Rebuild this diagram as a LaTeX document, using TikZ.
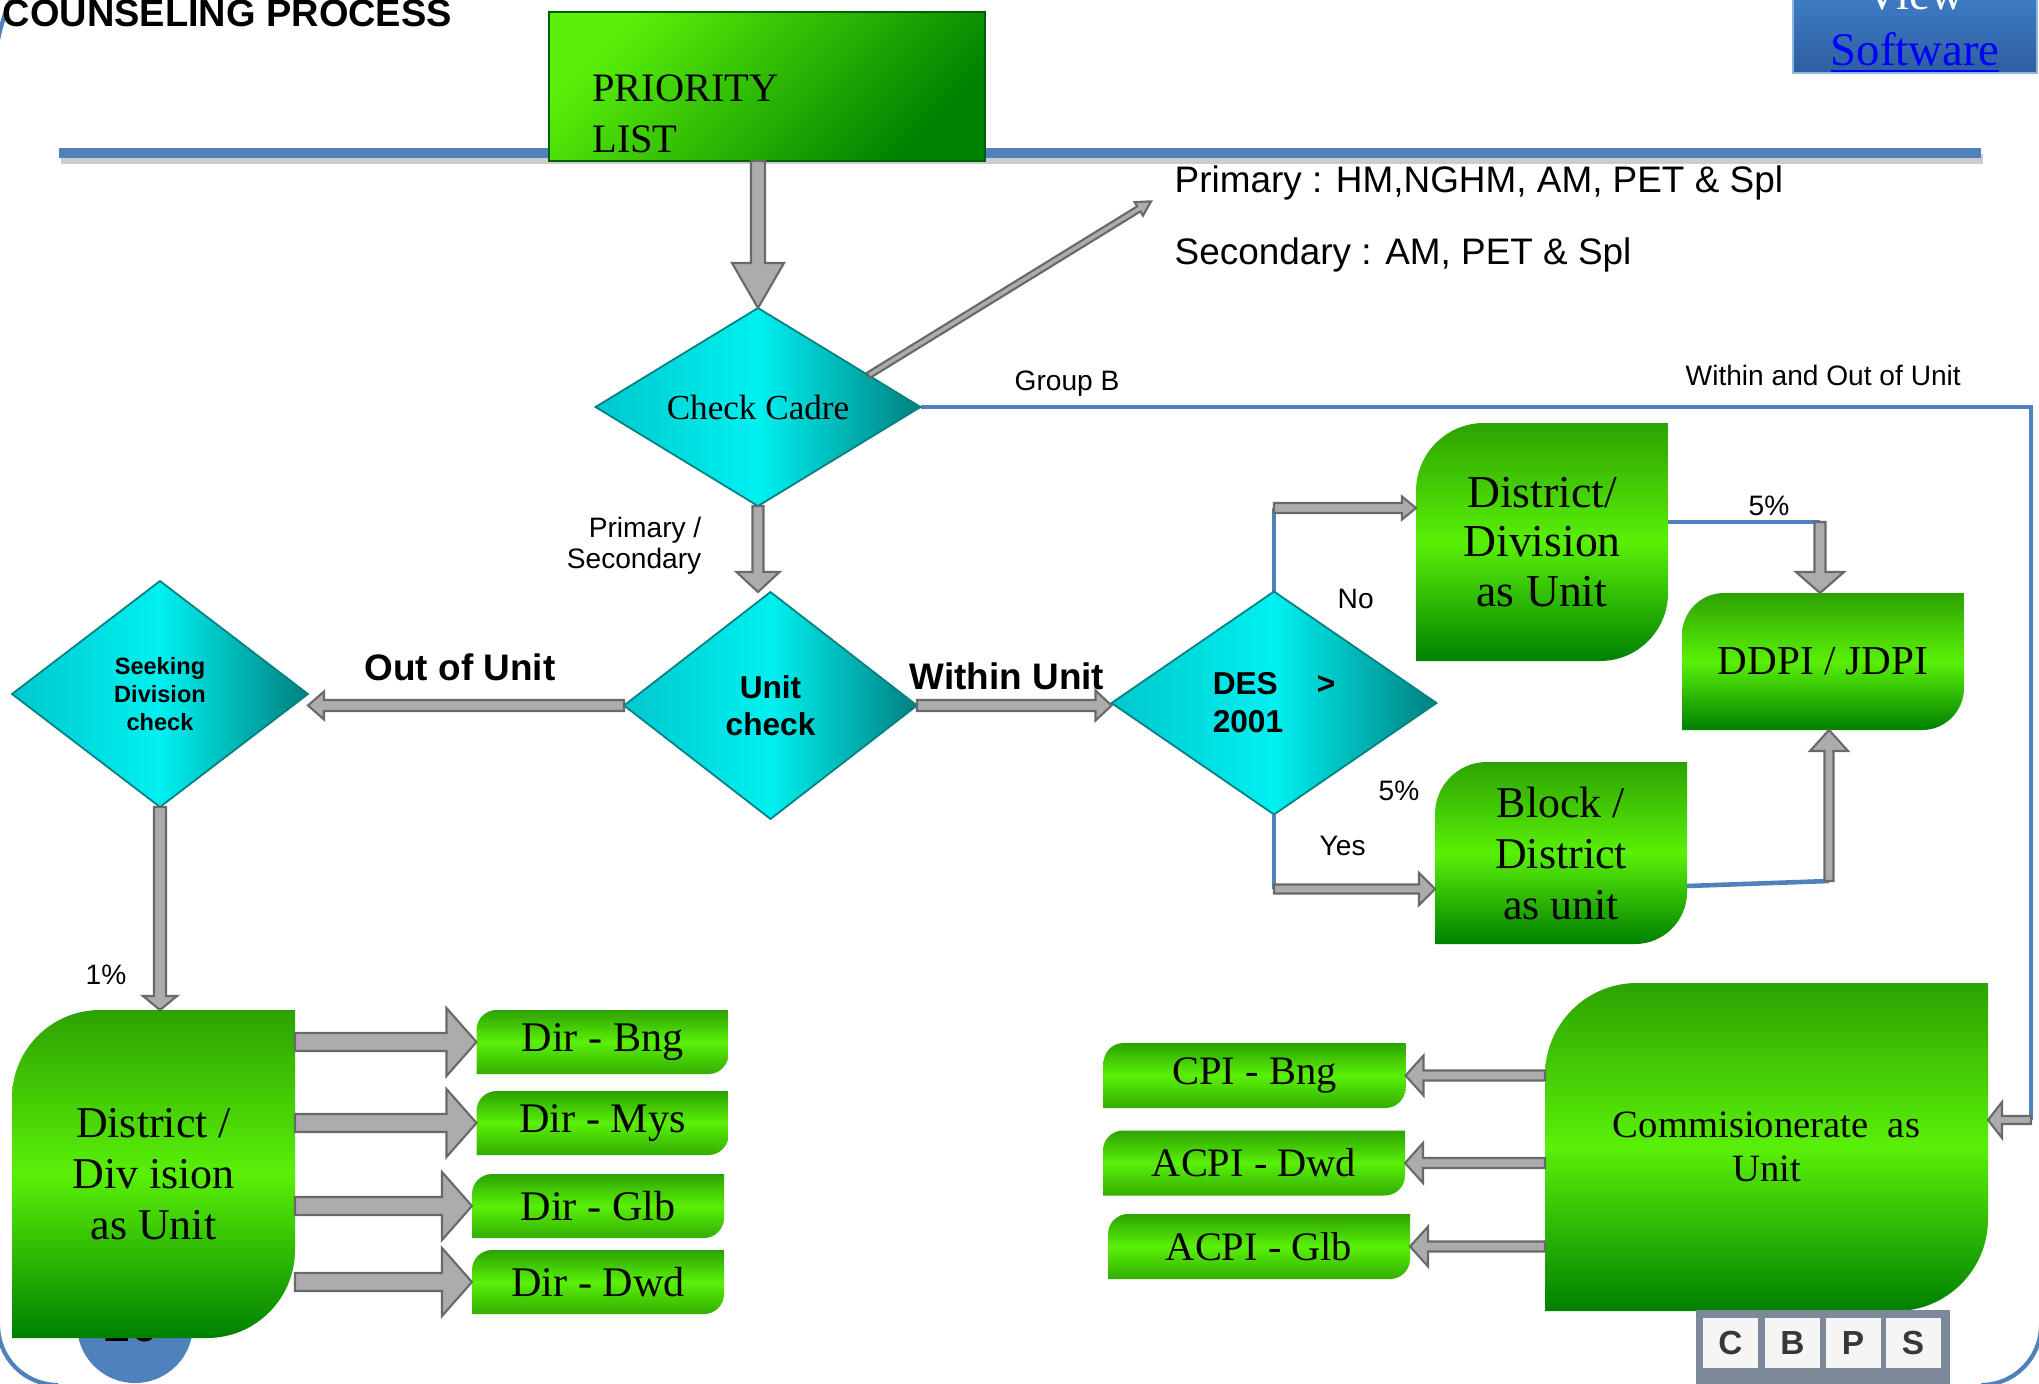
\documentclass[tikz,border=0pt]{standalone}
\usepackage{fontspec}
\setmainfont{Liberation Serif}
\newfontfamily\arial{Liberation Sans}
\usetikzlibrary{shapes.geometric,calc}

\definecolor{slideblue}{RGB}{79,129,189}
\definecolor{gtop}{RGB}{44,162,0}
\definecolor{gmid}{RGB}{90,240,8}
\definecolor{gbot}{RGB}{0,128,0}
\definecolor{cyanlt}{RGB}{0,240,240}
\definecolor{cyanlf}{RGB}{0,200,205}
\definecolor{tealdk}{RGB}{0,128,128}
\definecolor{arrowgray}{RGB}{172,172,172}
\definecolor{arrowedge}{RGB}{105,105,105}
\definecolor{btntop}{RGB}{66,130,205}
\definecolor{btnbot}{RGB}{46,94,160}
\definecolor{logogray}{RGB}{125,136,152}

\pgfdeclarelayer{bg}
\pgfdeclarelayer{boxes}
\pgfsetlayers{bg,boxes,main}

% box with two rounded corners (top left, bottom right)
\newcommand\diagshape[3]{%
  \shade[#3] (#1.south west) -- ($(#1.north west)+(0,-#2)$)
    arc[start angle=180, end angle=90, radius=#2] -- (#1.north east)
    -- ($(#1.south east)+(0,#2)$) arc[start angle=0, end angle=-90, radius=#2] -- cycle;}

\tikzset{
  greenfill/.style={top color=gtop, bottom color=gbot, middle color=gmid},
  greenfillsm/.style={top color=gtop, bottom color=gtop!85!gmid, middle color=gmid},
  boxtext/.style={inner sep=0pt, outer sep=0pt, align=center},
  dirbox/.style={boxtext, minimum width=2.52cm, minimum height=0.64cm, font=\fontsize{12}{14}\selectfont},
  cpibox/.style={boxtext, minimum width=3.02cm, minimum height=0.65cm, font=\fontsize{11.5}{14}\selectfont},
  decision/.style={diamond, draw=tealdk, line width=0.5pt, inner sep=0pt, outer sep=0pt,
    left color=cyanlf, right color=tealdk, middle color=cyanlt, align=center},
  blueline/.style={draw=slideblue, line width=1.3pt},
  frameline/.style={draw=slideblue, line width=1.2pt},
  smalllabel/.style={font=\arial\fontsize{8}{9.6}\selectfont, inner sep=0pt, anchor=base west},
  boldlabel/.style={font=\arial\bfseries\fontsize{10.5}{12}\selectfont, inner sep=0pt, anchor=base west},
  cadreline/.style={font=\arial\fontsize{10.5}{12}\selectfont, inner sep=0pt, anchor=base west},
  keycap/.style={fill=black!4, minimum width=0.55cm, minimum height=0.50cm, inner sep=0pt,
    font=\arial\bfseries\fontsize{9.5}{11}\selectfont, text=black!78},
  arrowdims/.code args={#1/#2/#3}{\def\shafthw{#1}\def\headhw{#2}\def\headlen{#3}},
  blockarrow/.style={fill=arrowgray, draw=arrowedge, line width=0.6pt, arrowdims={#1},
    to path={let \p1=(\tikztostart), \p2=(\tikztotarget),
      \n1={atan2(\y2-\y1,\x2-\x1)}, \n2={veclen(\x2-\x1,\y2-\y1)-\headlen} in
      ($(\p1)+(\n1+90:\shafthw)$) -- ($(\p1)+(\n1:\n2)+(\n1+90:\shafthw)$)
      -- ($(\p1)+(\n1:\n2)+(\n1+90:\headhw)$) -- (\p2)
      -- ($(\p1)+(\n1:\n2)+(\n1-90:\headhw)$) -- ($(\p1)+(\n1:\n2)+(\n1-90:\shafthw)$)
      -- ($(\p1)+(\n1-90:\shafthw)$) -- cycle}}
}

\begin{document}
\begin{tikzpicture}
\useasboundingbox (0,0) rectangle (20.39,-13.83);

\node[font=\arial\bfseries\fontsize{10.8}{13}\selectfont, inner sep=0pt, anchor=base west] (title) at (0.02,-0.27) {COUNSELING PROCESS};

\node[draw=gbot!75!black, line width=0.4pt, top color=gmid, bottom color=gbot, shading angle=45,
  minimum width=4.36cm, minimum height=1.49cm, inner sep=0pt, outer sep=0pt,
  label={[font=\fontsize{11.5}{14.5}\selectfont, align=left, inner sep=0pt, xshift=-0.815cm, yshift=-0.275cm]center:PRIORITY\\LIST}] (prio) at (7.67,-0.865) {};

\node[top color=btntop, bottom color=btnbot, draw=btntop!60!white, line width=0.4pt,
  minimum width=2.44cm, minimum height=0.94cm, inner sep=0pt, align=center,
  font=\fontsize{13.3}{15.9}\selectfont] (viewsw) at (19.15,-0.26) {\textcolor{white}{View}\\\textcolor{blue}{\underline{Software}}};

% decisions
\node[decision, aspect=1.64, minimum width=3.25cm, minimum height=1.98cm, font=\fontsize{10}{12}\selectfont] (cadre) at (7.58,-4.07) {Check Cadre};
\node[decision, aspect=1.29, minimum width=2.93cm, minimum height=2.27cm, font=\arial\bfseries\fontsize{9}{10.5}\selectfont] (unitchk) at (7.705,-7.055) {Unit\\check};
\node[decision, aspect=1.31, minimum width=2.96cm, minimum height=2.26cm, font=\arial\bfseries\fontsize{6.7}{7.9}\selectfont] (seekchk) at (1.60,-6.94) {Seeking\\Division\\check};
\node[decision, aspect=1.46, minimum width=3.25cm, minimum height=2.23cm, align=left, font=\arial\bfseries\fontsize{9}{10.8}\selectfont] (deschk) at (12.74,-7.03) {DES\hspace{0.39cm}>\\2001};

% green boxes, text only (shapes go on the boxes layer)
\node[boxtext, minimum width=2.83cm, minimum height=3.28cm, font=\fontsize{12.5}{14.5}\selectfont] (bigdiv) at (1.535,-11.74) {District /\\Div ision\\as Unit};
\node[dirbox] (dirbng) at (6.025,-10.42) {Dir - Bng};
\node[dirbox] (dirmys) at (6.025,-11.23) {Dir - Mys};
\node[dirbox] (dirglb) at (5.98,-12.06) {Dir - Glb};
\node[dirbox] (dirdwd) at (5.98,-12.82) {Dir - Dwd};
\node[boxtext, minimum width=2.52cm, minimum height=2.38cm, font=\fontsize{13}{14.2}\selectfont] (ddunit) at (15.42,-5.42) {District/\\Division\\as Unit};
\node[boxtext, minimum width=2.52cm, minimum height=1.82cm, font=\fontsize{12.5}{14.5}\selectfont] (blkunit) at (15.61,-8.53) {Block /\\District\\as unit};
\node[boxtext, minimum width=2.82cm, minimum height=1.37cm, font=\fontsize{11.7}{14}\selectfont] (ddpi) at (18.23,-6.615) {DDPI / JDPI};
\node[boxtext, minimum width=4.43cm, minimum height=3.28cm, font=\fontsize{11}{12.5}\selectfont] (comm) at (17.665,-11.47) {Commisionerate~~as\\Unit};
\node[cpibox] (cpibng) at (12.545,-10.755) {CPI - Bng};
\node[cpibox] (acpidwd) at (12.54,-11.63) {ACPI - Dwd};
\node[cpibox] (acpiglb) at (12.59,-12.465) {ACPI - Glb};

% labels
\node[cadreline] (primline) at (11.74,-1.93) {Primary : HM,NGHM, AM, PET \& Spl};
\node[cadreline] (secline) at (11.74,-2.64) {Secondary : AM, PET \& Spl};
\node[smalllabel] (groupb) at (10.14,-3.90) {Group B};
\node[smalllabel] (bothunits) at (16.85,-3.85) {Within and Out of Unit};
\node[font=\arial\fontsize{8}{8.8}\selectfont, inner sep=0pt, align=right, anchor=east] (cadrelbl) at (7.02,-5.455) {Primary /\\Secondary};
\node[boldlabel] (outlbl) at (3.64,-6.80) {Out of Unit};
\node[boldlabel] (withinlbl) at (9.09,-6.89) {Within Unit};
\node[smalllabel] (nolbl) at (13.37,-6.08) {No};
\node[smalllabel] (pctlow) at (13.78,-8.00) {5\%};
\node[smalllabel] (yeslbl) at (13.19,-8.55) {Yes};
\node[smalllabel] (pcthigh) at (17.48,-5.15) {5\%};
\node[smalllabel] (pctone) at (0.85,-9.84) {1\%};

% logo
\fill[logogray] (16.96,-13.10) rectangle (19.50,-13.95);
\foreach \ltr/\kx in {C/17.305, B/17.925, P/18.53, S/19.13}
  \node[keycap] (key\ltr) at (\kx,-13.43) {\ltr};

\coordinate (gbcorner) at (20.31,-11.20);
\coordinate (nocorner) at (12.74,-5.08);
\coordinate (yescorner) at (12.74,-8.89);
\coordinate (topfive) at (18.20,-5.22);
\coordinate (blkstart) at (16.87,-8.86);
\coordinate (blkcorner) at (18.29,-8.81);

\begin{pgfonlayer}{bg}
\fill[white] (0,0) rectangle (20.39,-13.83);
\draw[frameline] (0.12,0.02) .. controls (0.05,-0.12) and (0.0,-0.28) .. (-0.03,-0.45);
\draw[frameline] (-0.02,-13.25) arc[start angle=180, end angle=270, radius=0.6];
\draw[frameline] (20.41,-13.25) arc[start angle=0, end angle=-90, radius=0.6];
\fill[slideblue] (1.35,-13.25) circle (0.58);
\node[font=\arial\fontsize{14}{16}\selectfont, inner sep=0pt, anchor=base] (slideno) at (1.31,-13.41) {26};
\draw[line width=2.8pt, black!20] (0.61,-1.59) -- (19.83,-1.59);
\draw[line width=2.8pt, slideblue] (0.59,-1.53) -- (19.81,-1.53);
\draw[blueline] (cadre.east) -| (gbcorner);
\draw[blueline] (deschk.north) -- (nocorner);
\draw[blueline] (deschk.south) -- (yescorner);
\draw[blueline] (ddunit.east |- topfive) -- (topfive);
\draw[blueline] (blkstart) -- (blkcorner);
\end{pgfonlayer}

\begin{pgfonlayer}{boxes}
\diagshape{bigdiv}{0.88}{greenfill}
\foreach \bx in {dirbng,dirmys,dirglb,dirdwd,cpibng,acpidwd,acpiglb}
  {\diagshape{\bx}{0.2}{greenfillsm}}
\diagshape{ddunit}{0.68}{greenfill}
\diagshape{blkunit}{0.52}{greenfill}
\diagshape{ddpi}{0.42}{greenfill}
\diagshape{comm}{0.92}{greenfill}
\end{pgfonlayer}

% arrows
\draw[blockarrow={0.07cm/0.26cm/0.45cm}] (cadre.north |- prio.south) to (cadre.north);
\draw[blockarrow={0.055cm/0.215cm/0.20cm}] (cadre.south) to (cadre.south |- unitchk.north);
\draw[blockarrow={0.03cm/0.08cm/0.14cm}] ($(cadre.north)!0.68!(cadre.east)$) to ($(primline.south west)+(-0.23,0)$);
\draw[blockarrow={0.055cm/0.14cm/0.16cm}] (unitchk.west) to (unitchk.west -| seekchk.east);
\draw[blockarrow={0.055cm/0.15cm/0.16cm}] (unitchk.east) to (unitchk.east -| deschk.west);
\draw[blockarrow={0.05cm/0.115cm/0.14cm}] (nocorner) to (nocorner -| ddunit.west);
\draw[blockarrow={0.045cm/0.16cm/0.16cm}] (yescorner) to (yescorner -| blkunit.west);
\draw[blockarrow={0.055cm/0.24cm/0.21cm}] (topfive) to (topfive |- ddpi.north);
\draw[blockarrow={0.045cm/0.19cm/0.21cm}] (blkcorner) to (blkcorner |- ddpi.south);
\draw[blockarrow={0.04cm/0.18cm/0.14cm}] (gbcorner) to (gbcorner -| comm.east);
\draw[blockarrow={0.06cm/0.17cm/0.14cm}] (seekchk.south) to (seekchk.south |- bigdiv.north);
\foreach \dst in {dirbng,dirmys,dirglb,dirdwd}
  \draw[blockarrow={0.09cm/0.34cm/0.30cm}] (bigdiv.east |- \dst.west) to (\dst.west);
\foreach \dst in {cpibng,acpidwd,acpiglb}
  \draw[blockarrow={0.05cm/0.20cm/0.18cm}] (comm.west |- \dst.east) to (\dst.east);
\end{tikzpicture}
\end{document}
